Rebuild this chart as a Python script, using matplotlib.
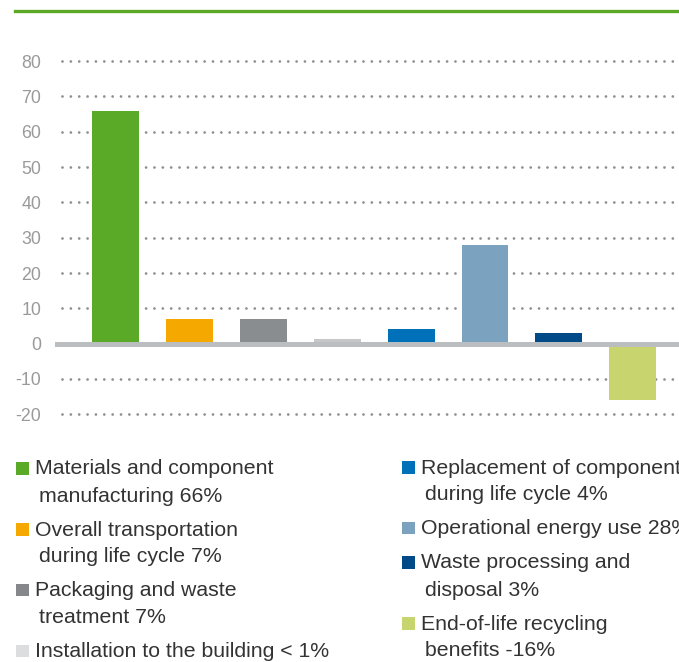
import matplotlib
matplotlib.use("Agg")
import matplotlib.pyplot as plt
from matplotlib.patches import Rectangle
from matplotlib.lines import Line2D

# ---- data ----
categories = [
    "Materials and component manufacturing",
    "Overall transportation during life cycle",
    "Packaging and waste treatment",
    "Installation to the building",
    "Replacement of components during life cycle",
    "Operational energy use",
    "Waste processing and disposal",
    "End-of-life recycling benefits",
]
values = [66, 7, 7, 1.4, 4, 28, 3, -16]
bar_colors = ["#5aaa28", "#f5a800", "#8a8d8f", "#c6c7c9",
              "#0070b8", "#7ba3bf", "#004a87", "#c8d46e"]
legend_colors = ["#5aaa28", "#f5a800", "#85878a", "#dcdddf",
                 "#0070b8", "#7ba3bf", "#004a87", "#c8d46e"]
legend_left = [
    ["Materials and component", " manufacturing 66%"],
    ["Overall transportation", " during life cycle 7%"],
    ["Packaging and waste", " treatment 7%"],
    ["Installation to the building < 1%"],
]
legend_right = [
    ["Replacement of components", " during life cycle 4%"],
    ["Operational energy use 28%"],
    ["Waste processing and", " disposal 3%"],
    ["End-of-life recycling", " benefits -16%"],
]
yticks = [-20, -10, 0, 10, 20, 30, 40, 50, 60, 70, 80]

W, H = 679, 662
fig = plt.figure(figsize=(W / 100, H / 100), dpi=100)
plt.rcParams['font.family'] = ['Liberation Sans', 'DejaVu Sans']

def fy(py):
    return 1 - py / H

def fx(px):
    return px / W

# top green rule
fig.add_artist(Line2D([fx(15), 1.0], [fy(11.3), fy(11.3)], color="#5aaa28",
                      lw=2.4, transform=fig.transFigure))

ax_left = fx(55)
ax_bottom = fy(416.0)
ax_top = fy(59.4)
ax = fig.add_axes([ax_left, ax_bottom, 1 - ax_left, ax_top - ax_bottom])

x = list(range(len(values)))
ax.bar(x, values, width=0.635, color=bar_colors, zorder=2)
ax.set_xlim((55 - 115.5) / 73.9, (679 - 115.5) / 73.9)
ax.set_ylim(-20.5, 80.5)

for t in yticks:
    if t != 0:
        ax.axhline(t, color="#8f8f8f", lw=2.0, ls=(0.5, (0.01, 3)),
                   dash_capstyle="round", zorder=1)
ax.axhline(0, color="#bbbec0", lw=3.6, zorder=3)

ax.set_yticks(yticks)
ax.set_yticklabels([str(t) for t in yticks], fontsize=12.8, color="#999a9c")
ax.tick_params(axis='y', length=0, pad=10)
ax.set_xticks([])
for s in ax.spines.values():
    s.set_visible(False)

# legend
txt_color = "#333333"
fs = 15.3

def draw_column(items, colors, sq_x, txt_x, cont_x, baselines):
    for item, col, base in zip(items, colors, baselines):
        fig.add_artist(Rectangle((fx(sq_x), fy(base)), fx(12.5), 12.5 / H,
                                 facecolor=col, edgecolor="none",
                                 transform=fig.transFigure))
        for j, line in enumerate(item):
            xx = txt_x if j == 0 else cont_x
            fig.text(fx(xx), fy(base + 27 * j), line.strip(), fontsize=fs,
                     color=txt_color, va="baseline", ha="left")

draw_column(legend_left, legend_colors[:4], 16, 35, 39, [474.5, 535.5, 596, 657])
draw_column(legend_right, legend_colors[4:], 402, 421, 425, [473.5, 534, 568.5, 629.5])

fig.savefig("out.png", dpi=100)
